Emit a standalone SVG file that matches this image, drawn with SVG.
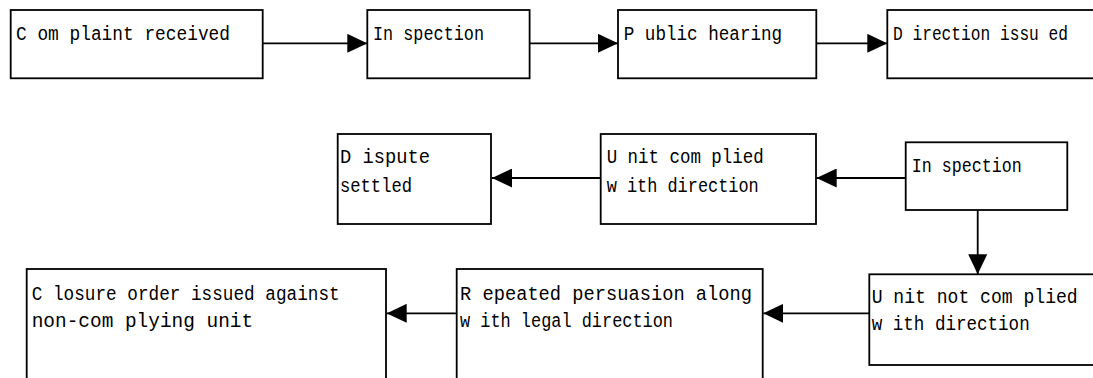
<svg xmlns="http://www.w3.org/2000/svg" width="1093" height="378" viewBox="0 0 1093 378">
<style>
.box{fill:#fff;stroke:#000;stroke-width:1.8}
.t{font-family:"Liberation Mono","DejaVu Sans Mono",monospace;font-size:19.5px;fill:#000}
.c{stroke:#000;stroke-width:1.8;fill:none;marker-end:url(#ah)}
</style>
<defs>
<marker id="ah" markerUnits="userSpaceOnUse" markerWidth="20" markerHeight="19" refX="20" refY="9.5" orient="auto">
<path d="M0,0 L20,9.5 L0,19 Z" fill="#000"/>
</marker>
</defs>
<rect width="1093" height="378" fill="#fff"/>
<g id="connectors">
<line class="c" x1="259" y1="43.3" x2="367.3" y2="43.3"/>
<line class="c" x1="529.6" y1="43.3" x2="618" y2="43.3"/>
<line class="c" x1="816.3" y1="43.3" x2="887.3" y2="43.3"/>
<line class="c" x1="905.7" y1="178" x2="816.7" y2="178"/>
<line class="c" x1="600.7" y1="178" x2="492" y2="178"/>
<line class="c" x1="977.7" y1="210" x2="977.7" y2="274.3"/>
<line class="c" x1="869.3" y1="313.3" x2="763.3" y2="313.3"/>
<line class="c" x1="456.7" y1="313.3" x2="386.7" y2="313.3"/>
</g>
<g id="n1"><rect class="box" x="10.7" y="10" width="252" height="68.3"/>
<text class="t" x="16" y="40" textLength="214" lengthAdjust="spacingAndGlyphs">C om plaint received</text></g>
<g id="n2"><rect class="box" x="367.3" y="10" width="162.3" height="68.3"/>
<text class="t" x="373" y="40" textLength="111" lengthAdjust="spacingAndGlyphs">In spection</text></g>
<g id="n3"><rect class="box" x="618" y="10" width="198.3" height="68.3"/>
<text class="t" x="623.7" y="40" textLength="158.5" lengthAdjust="spacingAndGlyphs">P ublic hearing</text></g>
<g id="n4"><rect class="box" x="887.3" y="10" width="207.2" height="68.3"/>
<text class="t" x="893" y="40" textLength="175" lengthAdjust="spacingAndGlyphs">D irection issu ed</text></g>
<g id="n5"><rect class="box" x="337.7" y="134" width="153.3" height="90"/>
<text class="t" x="340" y="163.3" textLength="90" lengthAdjust="spacingAndGlyphs">D ispute</text>
<text class="t" x="340" y="191.7" textLength="72" lengthAdjust="spacingAndGlyphs">settled</text></g>
<g id="n6"><rect class="box" x="600.7" y="134" width="215.3" height="90"/>
<text class="t" x="606.7" y="163.3" textLength="157" lengthAdjust="spacingAndGlyphs">U nit com plied</text>
<text class="t" x="606.7" y="191.7" textLength="152" lengthAdjust="spacingAndGlyphs">w ith direction</text></g>
<g id="n7"><rect class="box" x="905.7" y="142.3" width="161.6" height="67.7"/>
<text class="t" x="911.7" y="171.7" textLength="110" lengthAdjust="spacingAndGlyphs">In spection</text></g>
<g id="n8"><rect class="box" x="869.3" y="274.3" width="225.2" height="90.7"/>
<text class="t" x="871.7" y="303.3" textLength="206" lengthAdjust="spacingAndGlyphs">U nit not com plied</text>
<text class="t" x="871.7" y="330.3" textLength="158" lengthAdjust="spacingAndGlyphs">w ith direction</text></g>
<g id="n9"><rect class="box" x="456.7" y="269" width="306" height="125"/>
<text class="t" x="460" y="300" textLength="292" lengthAdjust="spacingAndGlyphs">R epeated persuasion along</text>
<text class="t" x="460" y="327" textLength="213" lengthAdjust="spacingAndGlyphs">w ith legal direction</text></g>
<g id="n10"><rect class="box" x="26.7" y="269" width="359.3" height="125"/>
<text class="t" x="31.7" y="300" textLength="308" lengthAdjust="spacingAndGlyphs">C losure order issued against</text>
<text class="t" x="31.7" y="327" textLength="221.5" lengthAdjust="spacingAndGlyphs">non-com plying unit</text></g>
</svg>
